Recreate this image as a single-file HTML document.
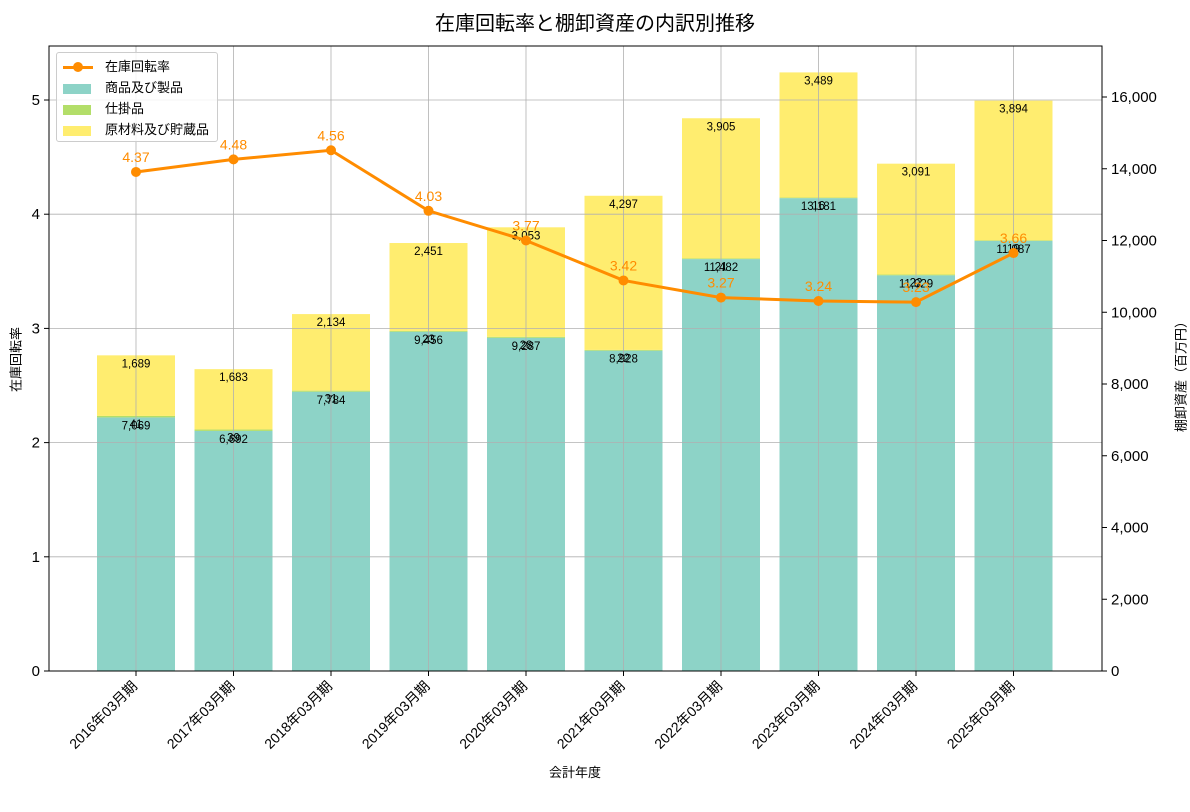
<!DOCTYPE html>
<html><head><meta charset="utf-8"><style>
body{margin:0;background:#fff;}
svg text{font-family:"Liberation Sans","Noto Sans CJK JP",sans-serif;}
</style></head><body>
<svg id="c" width="1190" height="789" xmlns="http://www.w3.org/2000/svg"></svg>
<script>
const categories=["2016年03月期","2017年03月期","2018年03月期","2019年03月期","2020年03月期","2021年03月期","2022年03月期","2023年03月期","2024年03月期","2025年03月期"];
const goods=[7069,6692,7784,9456,9287,8928,11482,13181,11029,11987];
const wip=[41,39,31,23,28,22,21,16,22,19];
const raw=[1689,1683,2134,2451,3053,4297,3905,3489,3091,3894];
const rate=[4.37,4.48,4.56,4.03,3.77,3.42,3.27,3.24,3.23,3.66];
const leftTicks=[0,1,2,3,4,5];
const rightTicks=[0,2000,4000,6000,8000,10000,12000,14000,16000];

const svg=document.getElementById('c');
const NS='http://www.w3.org/2000/svg';
const L=49,R=1102,T=46,B=671;
const yL=v=>B-v*(B-T)/5.473;
const yR=v=>B-v*(B-T)/17422;
const xC=i=>136+i*97.5;
const bw=78;
function el(tag,attrs,parent){const e=document.createElementNS(NS,tag);for(const k in attrs)e.setAttribute(k,attrs[k]);(parent||svg).appendChild(e);return e;}
function txt(s,attrs){const e=el('text',attrs);e.textContent=s;return e;}
const fmt=v=>v.toLocaleString('en-US');

// bars
categories.forEach((c,i)=>{
  const x=xC(i)-bw/2;
  const g=el('g',{});
  
  
  const b1=el('rect',{x:x,y:yR(goods[i]),width:bw,height:B-yR(goods[i]),fill:'#8dd3c7'},g);
  
  
  const b2=el('rect',{x:x,y:yR(goods[i]+wip[i]),width:bw,height:yR(goods[i])-yR(goods[i]+wip[i]),fill:'#b3de69'},g);
  
  
  const s=goods[i]+wip[i];
  const b3=el('rect',{x:x,y:yR(s+raw[i]),width:bw,height:yR(s)-yR(s+raw[i]),fill:'#ffed6f'},g);
  
  
});
// grid
leftTicks.forEach(v=>{const l=el('line',{x1:L,x2:R,y1:yL(v),y2:yL(v),stroke:'#b0b0b0','stroke-width':0.8});

});
categories.forEach((c,i)=>{const l=el('line',{x1:xC(i),x2:xC(i),y1:T,y2:B,stroke:'#b0b0b0','stroke-width':0.8});

});
// bar labels
categories.forEach((c,i)=>{
  const s=goods[i]+wip[i];
  const t1=txt(fmt(goods[i]),{x:xC(i),y:yR(goods[i])+12,'font-size':11.5,'text-anchor':'middle',fill:'#000'});
  
  
  const t2=txt(fmt(wip[i]),{x:xC(i),y:yR(s)+12,'font-size':11.5,'text-anchor':'middle',fill:'#000'});
  
  
  const t3=txt(fmt(raw[i]),{x:xC(i),y:yR(s+raw[i])+12,'font-size':11.5,'text-anchor':'middle',fill:'#000'});
  
  
});
// line
const pts=rate.map((v,i)=>xC(i)+','+yL(v)).join(' ');
const pl=el('polyline',{points:pts,fill:'none',stroke:'#ff8c00','stroke-width':3});


rate.forEach((v,i)=>{
  const c=el('circle',{cx:xC(i),cy:yL(v),r:5,fill:'#ff8c00'});
  
  
  const t=txt(v.toFixed(2),{x:xC(i),y:yL(v)-10,'font-size':14,'text-anchor':'middle',fill:'#ff8c00'});
  
  
});
// frame
const fr=el('rect',{x:L,y:T,width:R-L,height:B-T,fill:'none',stroke:'#000','stroke-width':1});


// left ticks
leftTicks.forEach(v=>{
  el('line',{x1:L-5,x2:L,y1:yL(v),y2:yL(v),stroke:'#000'});
  const t=txt(String(v),{x:L-9,y:yL(v)+5,'font-size':15,'text-anchor':'end'});
  
  
});
rightTicks.forEach(v=>{
  el('line',{x1:R,x2:R+5,y1:yR(v),y2:yR(v),stroke:'#000'});
  const t=txt(fmt(v),{x:R+9,y:yR(v)+5,'font-size':15,'text-anchor':'start'});
  
  
});
categories.forEach((c,i)=>{
  el('line',{x1:xC(i),x2:xC(i),y1:B,y2:B+5,stroke:'#000'});
  const t=txt(c,{x:xC(i)+2,y:B+16,'font-size':14,'text-anchor':'end',transform:`rotate(-45 ${xC(i)+2} ${B+16})`});
  
  
});
</script>
<svg width="0" height="0"></svg>
<div style="position:absolute;left:0;top:0;width:1190px;height:789px;pointer-events:none;font-family:'Liberation Sans','Noto Sans CJK JP',sans-serif;">
  <div style="position:absolute;top:7px;left:0;width:1190px;text-align:center;font-size:20px;">在庫回転率と棚卸資産の内訳別推移</div>
  <div style="position:absolute;top:762px;left:0;width:1150px;text-align:center;font-size:13px;">会計年度</div>
  <div style="position:absolute;left:-20px;top:350px;width:70px;text-align:center;font-size:13px;transform:rotate(-90deg);">在庫回転率</div>
  <div style="position:absolute;left:1115px;top:364px;width:130px;text-align:center;font-size:13px;transform:rotate(-90deg);">棚卸資産（百万円）</div>
  <div style="position:absolute;left:56px;top:52px;width:160px;height:88px;background:rgba(255,255,255,0.85);border:1px solid #ccc;border-radius:3px;font-size:13px;">
    <div style="position:absolute;left:6px;top:3px;"><span style="display:inline-block;width:30px;height:3px;background:#ff8c00;vertical-align:middle;position:relative;"><span style="position:absolute;left:10px;top:-4px;width:10px;height:10px;border-radius:50%;background:#ff8c00;"></span></span><span style="margin-left:12px;">在庫回転率</span></div>
    <div style="position:absolute;left:6px;top:24px;"><span style="display:inline-block;width:28px;height:10px;background:#8dd3c7;vertical-align:middle;"></span><span style="margin-left:14px;">商品及び製品</span></div>
    <div style="position:absolute;left:6px;top:45px;"><span style="display:inline-block;width:28px;height:10px;background:#b3de69;vertical-align:middle;"></span><span style="margin-left:14px;">仕掛品</span></div>
    <div style="position:absolute;left:6px;top:66px;"><span style="display:inline-block;width:28px;height:10px;background:#ffed6f;vertical-align:middle;"></span><span style="margin-left:14px;">原材料及び貯蔵品</span></div>
  </div>
</div>
</body></html>
